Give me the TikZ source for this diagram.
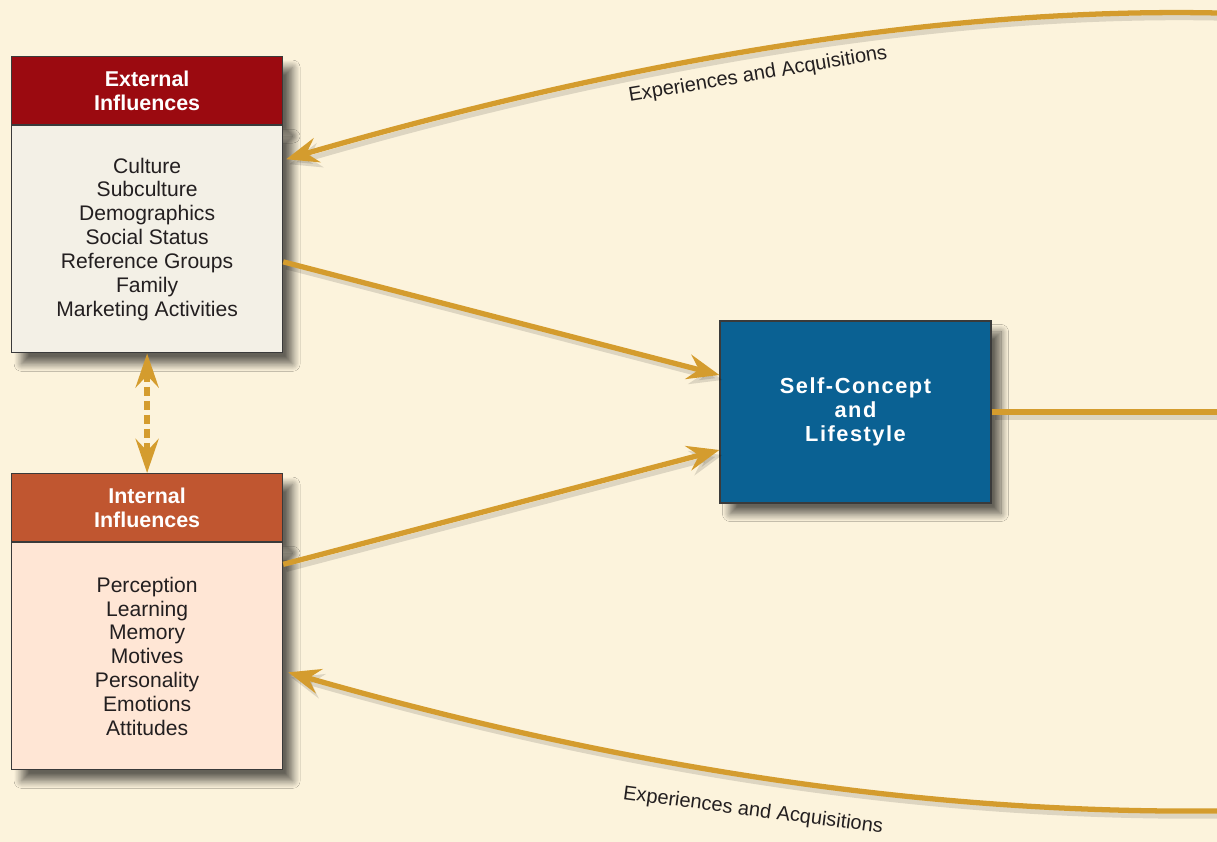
\documentclass[tikz,border=0pt]{standalone}
\usepackage{fontspec}
\setmainfont{Liberation Sans}
\newfontfamily\spacedfont[LetterSpace=7]{Liberation Sans}
\usetikzlibrary{positioning, arrows.meta, shadows.blur, calc}
\definecolor{inflCream}{HTML}{FCF3DC}
\definecolor{inflGold}{HTML}{D49C2E}
\definecolor{inflInk}{HTML}{231F20}
\definecolor{inflEdge}{HTML}{3A3A3A}
\definecolor{inflRed}{HTML}{9B0A10}
\definecolor{inflRust}{HTML}{C05630}
\definecolor{inflPale}{HTML}{F3F0E6}
\definecolor{inflPeach}{HTML}{FFE6D5}
\definecolor{inflBlue}{HTML}{0A6193}
\tikzset{
  boxshadow/.style={blur shadow={shadow xshift=0.2cm, shadow yshift=-0.22cm,
        shadow blur radius=0.15cm, shadow blur steps=10,
        shadow blur extra rounding=0pt, shadow opacity=60}},
  headbox/.style={draw=inflEdge, line width=0.7pt, minimum width=5.42cm,
        minimum height=1.36cm, inner sep=0pt, align=center, text=white,
        font=\fontsize{12.2}{13.6}\selectfont\bfseries},
  listbox/.style={draw=inflEdge, line width=0.7pt, minimum width=5.42cm,
        minimum height=4.54cm, inner sep=0pt, align=center, text=inflInk,
        font=\fontsize{12}{13.6}\selectfont},
  selfbox/.style={draw=inflEdge, line width=0.7pt, fill=inflBlue, minimum width=5.42cm,
        minimum height=3.64cm, inner sep=0pt, align=center, text=white,
        font=\fontsize{12.4}{13.6}\spacedfont\bfseries},
  lineshadow/.style={preaction={draw=black, opacity=0.12, line width=3pt,
        transform canvas={shift={(0.06cm,-0.1cm)}}}},
  flowline/.style={draw=inflGold, line width=3pt, lineshadow},
  flow/.style={flowline, -{Stealth[length=0.64cm, width=0.5cm, inset=0.22cm]}},
  dashflow/.style={draw=inflGold, line width=3.2pt, dash pattern=on 0.18cm off 0.1cm,
        {Stealth[length=0.68cm, width=0.46cm, inset=0.24cm]}-{Stealth[length=0.68cm, width=0.46cm, inset=0.24cm]}},
  tag/.style={inner sep=0pt, text=inflInk, font=\fontsize{11.4}{13}\selectfont}
}
\newcommand{\inflbox}[6]{%
  \node[headbox, boxshadow, fill=#3, anchor=north west] (#1head) at #2 {#5};
  \node[listbox, boxshadow, fill=#4, anchor=north] (#1body) at (#1head.south) {#6};
}

\begin{document}
\begin{tikzpicture}
    \useasboundingbox (0,0) rectangle (24.34,16.84);
    \fill[inflCream] (0,0) rectangle (24.34,16.84);
    \inflbox{ext}{(0.22,15.72)}{inflRed}{inflPale}{External\\Influences}{Culture\\Subculture\\Demographics\\Social Status\\Reference Groups\\Family\\Marketing Activities}
    \inflbox{int}{(0.22,7.38)}{inflRust}{inflPeach}{Internal\\Influences}{Perception\\Learning\\Memory\\Motives\\Personality\\Emotions\\Attitudes}
    \node[selfbox, boxshadow] (self) at (17.11,8.6) {Self-Concept\\and\\Lifestyle};
    \coordinate (topend) at (24.34,16.58);
    \coordinate (midend) at (24.34,8.6);
    \coordinate (lowend) at (24.34,0.62);
    \draw[flow] ([yshift=-0.45cm]extbody.east) -- ([yshift=0.74cm]self.west);
    \draw[flow] ([yshift=1.84cm]intbody.east) -- ([yshift=-0.76cm]self.west);
    \draw[flowline] (self.east) -- (midend);
    \draw[flow] (topend) .. controls (20.5,16.66) and (14.5,16.2) .. ([xshift=0.06cm, yshift=-0.68cm]extbody.north east);
    \draw[flow] (lowend) .. controls (20,0.58) and (14,1.04) .. ([xshift=0.1cm, yshift=-0.32cm]intbody.east);
    \draw[dashflow] (extbody.south) -- (inthead.north);
    \node[tag, rotate=9.5] (toptag) at (15.16,15.34) {Experiences and Acquisitions};
    \node[tag, rotate=-7.5] (lowtag) at (15.06,0.62) {Experiences and Acquisitions};
  \end{tikzpicture}
\end{document}
